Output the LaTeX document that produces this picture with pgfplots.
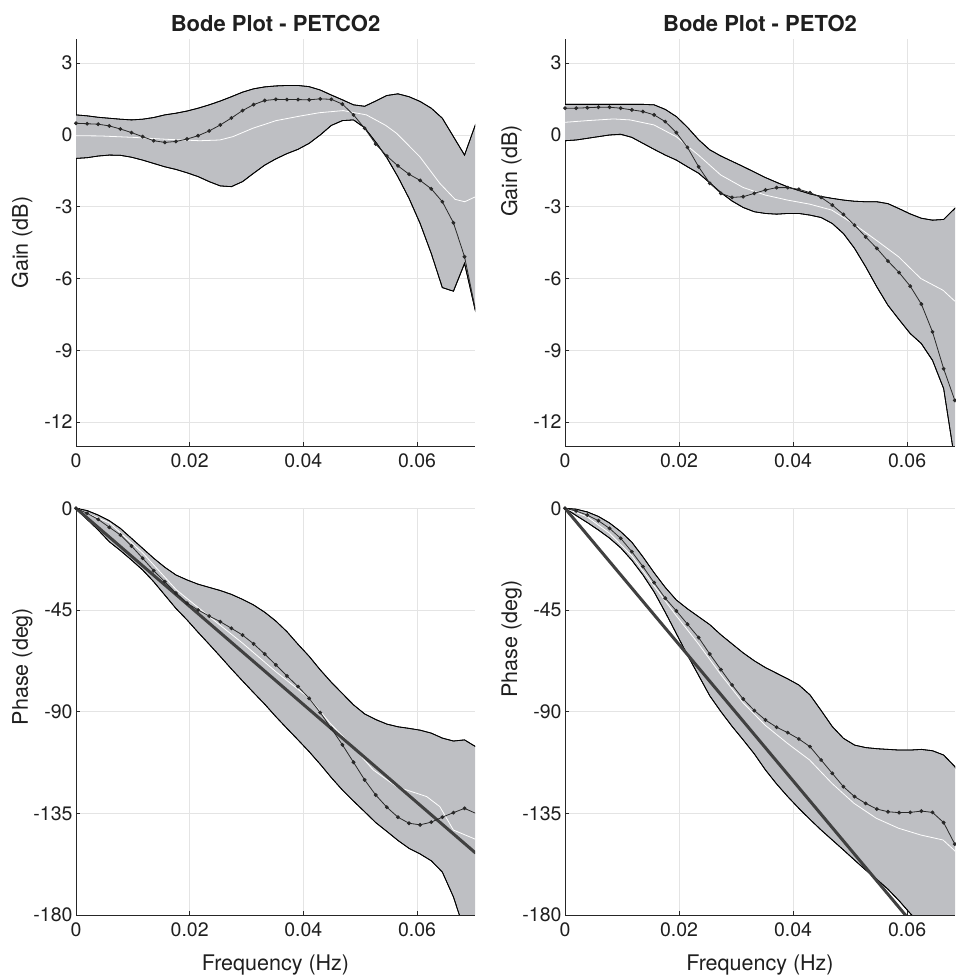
\documentclass[border=0pt]{standalone}
\usepackage{pgfplots}
\usepackage{pgfplotstable}
\pgfplotsset{compat=1.18}
\usepgfplotslibrary{fillbetween}
\usetikzlibrary{calc}
\usepackage{fontspec}
\setmainfont{TeX Gyre Heros}

\definecolor{bandgray}{RGB}{190,191,195}
\definecolor{axcol}{RGB}{38,38,38}
\definecolor{gridcol}{RGB}{228,228,228}
\definecolor{estcol}{RGB}{40,40,40}
\definecolor{delaycol}{RGB}{64,64,64}

% columns: f = k/512 Hz, up/lo = band limits, est = estimate (dots)
\pgfplotstableread{
f up lo est
0.000000 0.84 -0.98 0.49
0.001953 0.80 -0.95 0.47
0.003906 0.74 -0.88 0.45
0.005859 0.70 -0.84 0.38
0.007813 0.66 -0.85 0.25
0.009766 0.63 -0.93 0.10
0.011719 0.66 -1.05 -0.07
0.013672 0.73 -1.19 -0.24
0.015625 0.84 -1.33 -0.31
0.017578 0.91 -1.44 -0.27
0.019531 1.00 -1.58 -0.17
0.021484 1.12 -1.74 -0.03
0.023438 1.26 -1.95 0.17
0.025391 1.42 -2.13 0.42
0.027344 1.60 -2.16 0.71
0.029297 1.79 -1.95 1.02
0.031250 1.93 -1.60 1.27
0.033203 2.01 -1.26 1.44
0.035156 2.05 -1.00 1.49
0.037109 2.07 -0.78 1.48
0.039063 2.07 -0.60 1.48
0.041016 2.02 -0.35 1.47
0.042969 1.88 0.00 1.51
0.044922 1.67 0.40 1.49
0.046875 1.47 0.60 1.29
0.048828 1.26 0.63 0.84
0.050781 1.20 0.30 0.28
0.052734 1.42 -0.30 -0.38
0.054688 1.65 -0.95 -0.88
0.056641 1.72 -1.75 -1.29
0.058594 1.60 -2.65 -1.64
0.060547 1.40 -3.70 -1.90
0.062500 1.12 -4.95 -2.25
0.064453 0.70 -6.38 -2.79
0.066406 -0.07 -6.53 -3.67
0.068359 -0.84 -5.37 -5.09
0.070313 0.46 -7.40 -7.33
}\gainA

\pgfplotstableread{
f up lo est
0.000000 1.28 -0.24 1.12
0.001953 1.28 -0.21 1.12
0.003906 1.28 -0.14 1.14
0.005859 1.28 -0.07 1.16
0.007813 1.28 0.00 1.16
0.009766 1.28 0.03 1.12
0.011719 1.28 -0.10 1.05
0.013672 1.28 -0.35 0.98
0.015625 1.26 -0.60 0.84
0.017578 1.07 -0.84 0.56
0.019531 0.77 -1.05 0.10
0.021484 0.32 -1.33 -0.52
0.023438 -0.20 -1.60 -1.33
0.025391 -0.62 -2.00 -2.02
0.027344 -0.88 -2.41 -2.44
0.029297 -1.10 -2.76 -2.61
0.031250 -1.32 -3.03 -2.58
0.033203 -1.55 -3.21 -2.44
0.035156 -1.78 -3.28 -2.30
0.037109 -1.98 -3.31 -2.20
0.039063 -2.17 -3.28 -2.20
0.041016 -2.32 -3.28 -2.27
0.042969 -2.46 -3.35 -2.41
0.044922 -2.57 -3.45 -2.61
0.046875 -2.65 -3.70 -2.93
0.048828 -2.72 -4.12 -3.32
0.050781 -2.77 -4.74 -3.77
0.052734 -2.79 -5.51 -4.26
0.054688 -2.79 -6.35 -4.74
0.056641 -2.87 -7.12 -5.27
0.058594 -3.08 -7.72 -5.75
0.060547 -3.30 -8.30 -6.32
0.062500 -3.48 -8.72 -7.07
0.064453 -3.56 -9.42 -8.23
0.066406 -3.53 -10.60 -9.77
0.068359 -3.07 -13.60 -11.09
0.070313 -2.60 -16.00 -12.50
}\gainB

\pgfplotstableread{
f up lo est
0.000000 0.0 0.0 0.0
0.001953 -1.0 -4.9 -2.2
0.003906 -3.0 -9.6 -4.9
0.005859 -5.5 -14.8 -8.4
0.007813 -8.9 -18.7 -11.8
0.009766 -13.3 -22.9 -16.7
0.011719 -17.7 -27.3 -22.1
0.013672 -22.1 -32.5 -27.6
0.015625 -26.1 -38.4 -32.5
0.017578 -29.5 -44.3 -37.5
0.019531 -31.7 -49.4 -42.0
0.021484 -33.6 -54.9 -45.0
0.023438 -35.0 -60.2 -47.7
0.025391 -36.4 -65.6 -50.2
0.027344 -38.1 -71.1 -53.1
0.029297 -40.3 -76.4 -56.1
0.031250 -42.8 -81.6 -60.0
0.033203 -46.0 -86.7 -64.5
0.035156 -49.9 -92.2 -69.3
0.037109 -54.6 -97.4 -74.2
0.039063 -60.2 -102.5 -78.9
0.041016 -65.5 -107.7 -84.1
0.042969 -71.5 -113.3 -90.4
0.044922 -77.0 -119.2 -97.4
0.046875 -82.0 -124.7 -104.7
0.048828 -87.0 -129.6 -112.4
0.050781 -91.0 -134.3 -120.2
0.052734 -93.5 -139.1 -126.9
0.054688 -95.5 -143.0 -132.3
0.056641 -96.7 -147.0 -136.7
0.058594 -97.4 -150.5 -139.4
0.060547 -98.2 -153.0 -140.1
0.062500 -99.5 -156.0 -138.9
0.064453 -101.7 -161.0 -136.7
0.066406 -103.0 -172.0 -134.7
0.068359 -102.5 -187.0 -132.8
0.070313 -105.5 -200.0 -135.0
}\phaseA

\pgfplotstableread{
f up lo est
0.000000 0.0 0.0 0.0
0.001953 -0.4 -3.2 -1.2
0.003906 -1.6 -6.3 -3.0
0.005859 -3.6 -9.6 -5.5
0.007813 -6.5 -13.2 -8.9
0.009766 -10.3 -17.5 -13.3
0.011719 -15.0 -23.0 -19.2
0.013672 -21.5 -29.5 -25.8
0.015625 -28.5 -37.0 -32.9
0.017578 -35.0 -46.0 -39.8
0.019531 -40.6 -55.5 -45.4
0.021484 -44.5 -65.0 -51.3
0.023438 -48.0 -74.0 -57.2
0.025391 -51.5 -83.0 -64.5
0.027344 -56.0 -90.0 -71.4
0.029297 -60.0 -96.5 -78.2
0.031250 -64.0 -102.5 -84.4
0.033203 -67.5 -108.7 -89.5
0.035156 -70.5 -115.8 -93.7
0.037109 -73.0 -122.0 -96.9
0.039063 -75.5 -127.6 -99.3
0.041016 -78.2 -132.8 -102.1
0.042969 -82.6 -137.7 -105.5
0.044922 -89.5 -142.4 -111.4
0.046875 -96.6 -146.8 -117.3
0.048828 -101.8 -151.2 -123.2
0.050781 -104.8 -155.7 -127.6
0.052734 -105.9 -160.1 -130.6
0.054688 -106.4 -164.2 -133.1
0.056641 -106.7 -168.6 -134.3
0.058594 -107.0 -173.7 -134.7
0.060547 -107.0 -179.3 -134.6
0.062500 -106.7 -184.4 -134.0
0.064453 -107.3 -190.0 -134.6
0.066406 -109.2 -196.0 -139.1
0.068359 -114.3 -202.0 -148.6
0.070313 -125.0 -208.0 -160.0
}\phaseB

\pgfplotsset{
  bode/.style={
    scale only axis, anchor=south west,
    height=406.7pt,
    xmin=0,
    axis x line*=bottom, axis y line*=left,
    axis line style={-, axcol, line width=0.9pt},
    major tick length=4pt,
    tick align=inside,
    tick style={axcol, line width=0.7pt},
    grid=major,
    grid style={gridcol, line width=0.7pt},
    xtick={0,0.02,0.04,0.06},
    xticklabels={0,0.02,0.04,0.06},
    scaled x ticks=false,
    tick label style={font=\fontsize{19.5}{22}\selectfont, text=black!88},
    xticklabel style={yshift=-4pt},
    label style={font=\fontsize{21.5}{24}\selectfont, text=black!88},
    xlabel style={yshift=-11pt},
    ylabel style={at={($(axis description cs:0,0.5)+(-48pt,0)$)}, anchor=base},
    title style={font=\fontsize{22}{24}\selectfont\bfseries, text=black!88, yshift=-2pt},
  },
  gain/.style={bode, ymin=-13, ymax=4,
    ytick={-12,-9,-6,-3,0,3}, yticklabels={-12,-9,-6,-3,0,3},
    ylabel={Gain (dB)}},
  phase/.style={bode, ymin=-180, ymax=0,
    ytick={-180,-135,-90,-45,0}, yticklabels={-180,-135,-90,-45,0},
    ylabel={Phase (deg)}, xlabel={Frequency (Hz)}},
  leftcol/.style={width=399pt, xmax=0.0702},
  rightcol/.style={width=390pt, xmax=0.0684},
  limit/.style={black, line width=0.8pt},
  est/.style={estcol, line width=0.8pt, mark=*, mark size=1.5pt},
  avg/.style={white, line width=0.8pt},
  delay/.style={delaycol, line width=3pt},
}

\begin{document}
\begin{tikzpicture}

% ---- gain, PETCO2
\begin{axis}[gain, leftcol, at={(76pt,533pt)}, title={Bode Plot - PETCO2}]
\addplot[name path=up, limit] table[x=f, y=up] {\gainA};
\addplot[name path=lo, limit] table[x=f, y=lo] {\gainA};
\addplot[bandgray] fill between[of=up and lo];
\addplot[limit] table[x=f, y=up] {\gainA};
\addplot[limit] table[x=f, y=lo] {\gainA};
\addplot[avg] coordinates {
 (0,-0.03) (0.0042,-0.04) (0.0101,-0.10) (0.0159,-0.18) (0.0218,-0.24)
 (0.0253,-0.21) (0.0276,-0.07) (0.0311,0.28) (0.0352,0.60) (0.0394,0.79)
 (0.0428,0.93) (0.047,1.02) (0.0511,0.84) (0.0545,0.40) (0.0564,0.07)
 (0.0605,-0.91) (0.064,-2.02) (0.0667,-2.69) (0.0684,-2.79) (0.0703,-2.58)};
\addplot[est] table[x=f, y=est] {\gainA};
\end{axis}

% ---- gain, PETO2
\begin{axis}[gain, rightcol, at={(565pt,533pt)}, title={Bode Plot - PETO2}]
\addplot[name path=up, limit] table[x=f, y=up] {\gainB};
\addplot[name path=lo, limit] table[x=f, y=lo] {\gainB};
\addplot[bandgray] fill between[of=up and lo];
\addplot[limit] table[x=f, y=up] {\gainB};
\addplot[limit] table[x=f, y=lo] {\gainB};
\addplot[avg] coordinates {
 (0,0.53) (0.0039,0.60) (0.0085,0.67) (0.0114,0.63) (0.0156,0.42)
 (0.0195,-0.07) (0.0234,-0.84) (0.0273,-1.67) (0.0312,-2.19) (0.0351,-2.51)
 (0.039,-2.72) (0.0429,-2.89) (0.0468,-3.14) (0.0507,-3.73) (0.0546,-4.40)
 (0.0585,-5.09) (0.0624,-6.00) (0.0663,-6.49) (0.0682,-6.91) (0.0703,-7.30)};
\addplot[est] table[x=f, y=est] {\gainB};
\end{axis}

% ---- phase, PETCO2
\begin{axis}[phase, leftcol, at={(76pt,64pt)}]
\addplot[name path=up, limit] table[x=f, y=up] {\phaseA};
\addplot[name path=lo, limit] table[x=f, y=lo] {\phaseA};
\addplot[bandgray] fill between[of=up and lo];
\addplot[limit] table[x=f, y=up] {\phaseA};
\addplot[limit] table[x=f, y=lo] {\phaseA};
\addplot[avg] coordinates {
 (0,0) (0.00596,-6.6) (0.0118,-19.9) (0.01766,-36.1) (0.0235,-48.0)
 (0.02936,-59.8) (0.0352,-72.4) (0.04105,-84.1) (0.0447,-95.1) (0.0487,-105.5)
 (0.0523,-115.8) (0.0564,-123.2) (0.0617,-127.6) (0.064,-132.0) (0.0664,-142.4)
 (0.0703,-146.5)};
\addplot[delay] coordinates {(0,0) (0.0703125,-152.6)};
\addplot[est] table[x=f, y=est] {\phaseA};
\end{axis}

% ---- phase, PETO2
\begin{axis}[phase, rightcol, at={(565pt,64pt)}]
\addplot[name path=up, limit] table[x=f, y=up] {\phaseB};
\addplot[name path=lo, limit] table[x=f, y=lo] {\phaseB};
\addplot[bandgray] fill between[of=up and lo];
\addplot[limit] table[x=f, y=up] {\phaseB};
\addplot[limit] table[x=f, y=lo] {\phaseB};
\addplot[avg] coordinates {
 (0,0) (0.0039,-3.8) (0.0078,-11.0) (0.0117,-21.0) (0.0156,-34.3)
 (0.0195,-47.5) (0.0234,-60.0) (0.0273,-73.5) (0.0312,-86.0) (0.0351,-96.0)
 (0.039,-104.0) (0.0429,-111.4) (0.0468,-121.7) (0.0507,-130.6) (0.0546,-137.2)
 (0.0585,-141.6) (0.0624,-144.6) (0.0663,-146.8) (0.0682,-151.2) (0.0703,-157.0)};
\addplot[delay] coordinates {(0,0) (0.0703125,-212.0)};
\addplot[est] table[x=f, y=est] {\phaseB};
\end{axis}

\pgfresetboundingbox
\path[use as bounding box] (0,0) rectangle (955pt,979pt);
\end{tikzpicture}
\end{document}
